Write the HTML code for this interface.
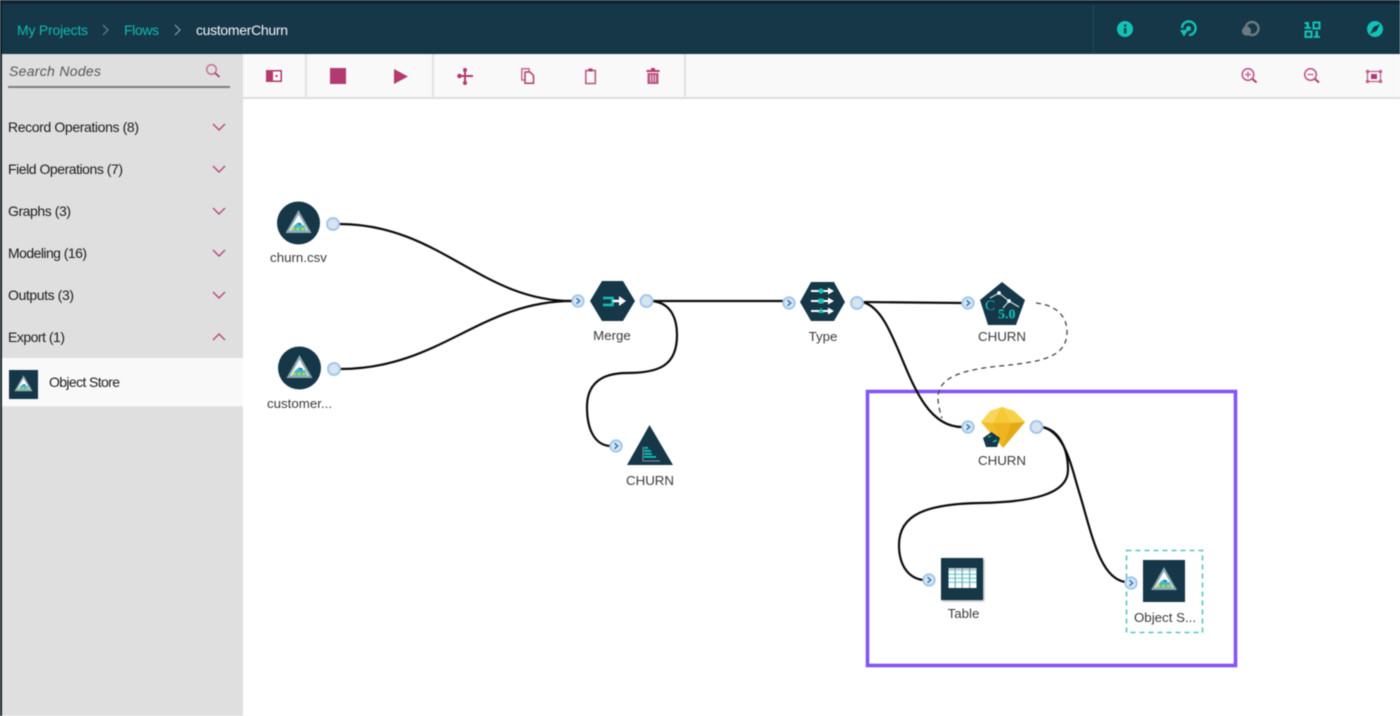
<!DOCTYPE html>
<html><head><meta charset="utf-8"><style>
html,body{margin:0;padding:0;background:#fff;width:1400px;height:716px;overflow:hidden}
svg{display:block;filter:blur(.45px)}
text{font-family:"Liberation Sans",sans-serif;font-size:14px;fill:#222}
.lbl{text-anchor:middle;fill:#3a3a3a;font-size:13.3px}
.side{fill:#1c1c1c;font-size:14px}
.ic{fill:#b23a6e;stroke:none}
.hd{fill:#12c4b8;stroke:none}
.hl{fill:none;stroke:#12c4b8;stroke-width:2.4}
.w{fill:none;stroke:#0c0c0c;stroke-width:2.2}
</style></head><body>
<svg width="1400" height="716" viewBox="0 0 1400 716" xmlns="http://www.w3.org/2000/svg">
<defs>
<g id="pout"><circle r="6" fill="#d7e4f1" stroke="#a5c7e8" stroke-width="2"/></g>
<g id="pi"><circle r="5.700" fill="#dde8f4" stroke="#a5c7e8" stroke-width="2"/><path d="M-1.500,-2.800 L1.700,0 L-1.500,2.800" fill="none" stroke="#3f86c6" stroke-width="1.700"/></g>
<g id="tri">
<path d="M0,-14 L13,9 L-13,9Z" fill="#8fa8b2"/>
<path d="M0,-9.500 L9.300,6.800 L-9.300,6.800Z" fill="#fff"/>
<path d="M-8,6.800 L8,6.800 L5.500,1 L2,1 L0,-2 L-4,1Z" fill="#4cb7c4"/>
<rect x="-7" y="3.800" width="3" height="2.200" fill="#c9d92f"/><rect x="-2" y="3.800" width="3" height="2.200" fill="#c9d92f"/><rect x="3" y="3.800" width="3" height="2.200" fill="#c9d92f"/><rect x="0" y="-1" width="3" height="2" fill="#1f7fb5"/>
</g>
<g id="chev"><path d="M-6,-3 L0,3 L6,-3" fill="none" stroke="#b8477a" stroke-width="1.400"/></g>
</defs>

<!-- header -->
<rect width="1400" height="54" fill="#153748"/>
<rect width="1400" height="4" fill="#0f2632"/>
<rect y="0" width="2" height="716" fill="#0f1e26"/>
<line x1="1093.500" y1="4" x2="1093.500" y2="53" stroke="#1f4a5c"/>
<text x="17" y="35" style="fill:#12b9b2" textLength="71">My Projects</text>
<path d="M103,25 L108,30 L103,35" fill="none" stroke="#6f8894" stroke-width="1.100"/>
<text x="124" y="35" style="fill:#12b9b2" textLength="35">Flows</text>
<path d="M175,25 L180,30 L175,35" fill="none" stroke="#8fa3ad" stroke-width="1.100"/>
<text x="196" y="35" style="fill:#f2f5f6" textLength="92">customerChurn</text>

<circle class="hd" cx="1125" cy="29" r="8"/>
<rect x="1124" y="28" width="2.400" height="5.500" fill="#153748"/><rect x="1124" y="24.500" width="2.400" height="2.200" fill="#153748"/>
<path class="hl" d="M1189,35 A6.800,6.800 0 1 0 1182,28"/>
<circle class="hd" cx="1188.500" cy="28.500" r="2.500"/>
<path class="hd" d="M1180,30 L1188,30 L1184,36.500Z"/>
<circle cx="1252" cy="28.500" r="6.500" fill="none" stroke="#6d7a80" stroke-width="2.400"/>
<circle cx="1246.500" cy="31" r="4.600" fill="#6d7a80"/>
<g>
<rect x="1306.500" y="22" width="2.500" height="6.500" class="hd"/><rect x="1304.500" y="22" width="3" height="2" class="hd"/><rect x="1304.500" y="27" width="6.500" height="1.800" class="hd"/>
<rect x="1313.500" y="22.500" width="6" height="6" fill="none" stroke="#12c4b8" stroke-width="2"/>
<rect x="1305.500" y="31.500" width="6" height="5.500" fill="none" stroke="#12c4b8" stroke-width="2"/>
<rect x="1315.500" y="31" width="2.500" height="6.500" class="hd"/><rect x="1313.500" y="36" width="6.500" height="1.800" class="hd"/>
</g>
<circle class="hd" cx="1375" cy="29" r="8"/>
<path d="M1380,24 L1376.500,31 L1370,34 L1373.500,27Z" fill="#153748"/>

<!-- sidebar -->
<rect x="2" y="54" width="241" height="662" fill="#dfdfdf"/>
<text x="9" y="76" style="font-style:italic;fill:#565656" textLength="92">Search Nodes</text>
<rect x="8" y="86" width="222" height="2" fill="#7d7d7d"/>
<circle cx="211.500" cy="69.500" r="4.800" fill="none" stroke="#c06a90" stroke-width="1.300"/>
<line x1="215" y1="73" x2="219.500" y2="77" stroke="#b23a6e" stroke-width="1.800"/>

<text class="side" x="8" y="132" textLength="131">Record Operations (8)</text>
<text class="side" x="8" y="174" textLength="115">Field Operations (7)</text>
<text class="side" x="8" y="216" textLength="63">Graphs (3)</text>
<text class="side" x="8" y="258" textLength="79">Modeling (16)</text>
<text class="side" x="8" y="300" textLength="66">Outputs (3)</text>
<text class="side" x="8" y="342" textLength="57">Export (1)</text>
<use href="#chev" x="219" y="127"/><use href="#chev" x="219" y="169"/><use href="#chev" x="219" y="211"/><use href="#chev" x="219" y="253"/><use href="#chev" x="219" y="295"/>
<path d="M213,340 L219,334 L225,340" fill="none" stroke="#b8477a" stroke-width="1.400"/>
<rect x="2" y="358" width="241" height="48" fill="#f9f9f9"/>
<rect x="2" y="406" width="241" height="1" fill="#e9e9e9"/>
<rect x="9" y="370" width="29" height="29" fill="#153748"/>
<use href="#tri" transform="translate(23.500,385) scale(.7)"/>
<text class="side" x="49" y="387" textLength="71">Object Store</text>

<!-- toolbar -->
<rect x="243" y="54" width="1157" height="44" fill="#f9f9f9"/>
<rect x="243" y="97" width="1157" height="2" fill="#dedede"/>
<rect x="305" y="54" width="2" height="44" fill="#e2e2e2"/>
<rect x="432" y="54" width="2" height="44" fill="#e2e2e2"/>
<rect x="684" y="54" width="2" height="44" fill="#e2e2e2"/>

<rect class="ic" x="266" y="70" width="16" height="12"/>
<rect x="273" y="71.500" width="7.500" height="9" fill="#f9f9f9"/><rect class="ic" x="275.500" y="75" width="2" height="2"/>
<rect class="ic" x="330" y="68" width="16" height="16"/>
<path class="ic" d="M394,69 L408,76.500 L394,84Z"/>
<path d="M458,76 L473,76 M465,69 L465,84" fill="none" stroke="#b23a6e" stroke-width="2"/>
<circle class="ic" cx="459.500" cy="76" r="2.300"/><circle class="ic" cx="465" cy="70" r="2"/><circle class="ic" cx="465" cy="83" r="2"/>
<path d="M521.800,68.800 L529,68.800 L529,80 L521.800,80Z" fill="none" stroke="#c46c93" stroke-width="1.500"/>
<path d="M525,72 L530,72 L533.500,75.500 L533.500,83.300 L525,83.300Z" fill="#f9f9f9" stroke="#b23a6e" stroke-width="1.500"/>
<rect x="585.800" y="70.500" width="9.500" height="13" fill="none" stroke="#c05a87" stroke-width="1.600"/>
<rect class="ic" x="588.500" y="68.500" width="4" height="3"/>
<rect class="ic" x="646.500" y="70" width="13" height="2"/><rect class="ic" x="651" y="68" width="4" height="2.500"/>
<path class="ic" d="M647.500,73 L658.500,73 L658.500,84 L647.500,84Z" opacity=".85"/>
<path d="M650.500,75 V82 M653,75 V82 M655.500,75 V82" stroke="#f9f9f9" stroke-width=".8"/>

<circle cx="1248" cy="74.500" r="5.800" fill="none" stroke="#c05a87" stroke-width="1.600"/>
<path d="M1252.500,79 L1256.500,82.500" stroke="#b23a6e" stroke-width="2"/>
<path d="M1245,74.500 H1251 M1248,71.500 V77.500" stroke="#c05a87" stroke-width="1.300"/>
<circle cx="1310.500" cy="74.500" r="5.800" fill="none" stroke="#c05a87" stroke-width="1.600"/>
<path d="M1315,79 L1319,82.500" stroke="#b23a6e" stroke-width="2"/>
<path d="M1307.500,74.500 H1313.500" stroke="#c05a87" stroke-width="1.300"/>
<rect x="1367.500" y="71.500" width="13" height="10" fill="none" stroke="#c05a87" stroke-width="1.200"/>
<rect x="1371" y="74" width="6" height="5" fill="#b23a6e"/>
<g fill="#c05a87"><rect x="1366" y="70" width="3" height="3"/><rect x="1379" y="70" width="3" height="3"/><rect x="1366" y="80" width="3" height="3"/><rect x="1379" y="80" width="3" height="3"/></g>

<!-- purple frame -->
<rect x="867.500" y="391.500" width="368" height="274" fill="none" stroke="#8355f5" stroke-width="3.600"/>

<!-- connectors -->
<path class="w" d="M339,224 C 440,224 480,301 572,301"/>
<path class="w" d="M340,369 C 440,369 480,301 572,301"/>
<path class="w" d="M652,301 L783,301"/>
<path class="w" d="M652,301 C 672,303 677,320 677,335 C 677,365 660,373 627,373 C 600,373 587,385 587,407 C 587,430 595,445 610,446"/>
<path class="w" d="M862,302 L962,303"/>
<path class="w" d="M862,302 C 902,310 905,427 962,427"/>
<path d="M1036,303 C 1055,305 1067,315 1067,332 C 1067,358 1040,362 1000,366 C 960,370 938,378 938,398 C 938,405 940,412 942,418" fill="none" stroke="#444" stroke-width="1.300" stroke-dasharray="5 4"/>
<path class="w" d="M1042,427 C 1060,430 1068,450 1068,470 C 1068,495 1030,502 980,503 C 925,504 899,515 899,545 C 899,565 908,578 923,580"/>
<path class="w" d="M1042,427 C 1066,432 1072,470 1080,495 C 1092,535 1100,578 1125,582"/>

<!-- churn.csv -->
<circle cx="298.500" cy="223" r="21.500" fill="#153748"/>
<use href="#tri" x="298.500" y="224"/>
<use href="#pout" x="333" y="224"/>
<text class="lbl" x="298.500" y="262">churn.csv</text>
<!-- customer -->
<circle cx="299.500" cy="368" r="21.500" fill="#153748"/>
<use href="#tri" x="299.500" y="369"/>
<use href="#pout" x="334" y="369"/>
<text class="lbl" x="299.500" y="408">customer...</text>

<!-- merge -->
<path d="M590,301 L602,281 L623,281 L635,301 L623,321 L602,321Z" fill="#153748"/>
<path d="M603,298 H612.500 V305 H603" fill="none" stroke="#12c4b8" stroke-width="2.600"/>
<path d="M613,299.800 H619 V296 L626,301 L619,306 V302.200 H613Z" fill="#fff"/>
<use href="#pi" x="578" y="301"/><use href="#pout" x="646.500" y="301"/>
<text class="lbl" x="612" y="340">Merge</text>

<!-- churn triangle -->
<path d="M649.500,425 L673,465 L627,465Z" fill="#153748"/>
<path d="M643,447 V461 H660" fill="none" stroke="#7f95a0" stroke-width="1"/>
<g fill="#12c4b8"><rect x="644" y="447" width="4" height="1.800"/><rect x="644" y="450" width="7" height="1.800"/><rect x="644" y="453" width="8" height="1.800"/><rect x="644" y="456" width="12" height="1.800"/></g>
<use href="#pi" x="616" y="446"/>
<text class="lbl" x="650" y="485">CHURN</text>

<!-- type -->
<path d="M800,302 L811,282 L834,282 L845,302 L834,321 L811,321Z" fill="#153748"/>
<g fill="#fff"><rect x="811" y="290" width="18" height="2"/><rect x="811" y="300" width="18" height="2"/><rect x="811" y="310" width="18" height="2"/>
<path d="M828,287.500 L834,291 L828,294.500Z"/><path d="M828,297.500 L834,301 L828,304.500Z"/><path d="M828,307.500 L834,311 L828,314.500Z"/></g>
<circle cx="821" cy="291" r="2.600" fill="#12c4b8"/><rect x="818.500" y="298.500" width="5" height="5" fill="#12c4b8"/><path d="M821,307.500 L824,313 L818,313Z" fill="#12c4b8"/>
<use href="#pi" x="789" y="303"/><use href="#pout" x="857" y="303"/>
<text class="lbl" x="823" y="341">Type</text>

<!-- C5.0 pentagon -->
<path d="M1002,282 L1025,300 L1016,325 L988,325 L980,300Z" fill="#153748"/>
<path d="M990,298 L999,293 L1009,301 L1019,307 M1009,301 L1003,308" fill="none" stroke="#dbe4e8" stroke-width="1.100"/>
<circle cx="999" cy="293" r="1.900" fill="#fff"/><circle cx="1009" cy="301" r="1.900" fill="#fff"/>
<text x="985" y="310" style="font-family:'Liberation Serif',serif;font-size:15px;fill:#12c4b8">C</text>
<text x="998" y="318.500" style="font-family:'Liberation Serif',serif;font-size:14px;fill:#12c4b8;font-weight:bold">5.0</text>
<use href="#pi" x="968" y="303"/>
<text class="lbl" x="1002" y="341">CHURN</text>

<!-- gem -->
<path d="M1002,407 L1014,411 L1025,422 L1003,448 L981,422 L990,411Z" fill="#f2bd2c"/>
<path d="M1002,407 L1014,411 L1025,422 L1011,423Z" fill="#f7d04a"/>
<path d="M1002,407 L993,423 L981,422 L990,411Z" fill="#f9d65b"/>
<path d="M993,423 L1011,423 L1002,407Z" fill="#f5c838"/>
<path d="M993,423 L1011,423 L1003,448Z" fill="#eeb520"/>
<path d="M1011,423 L1025,422 L1003,448Z" fill="#e5a917"/>
<path d="M991.500,432 L1000,438 L997,447 L986,447 L983,438Z" fill="#153748"/>
<path d="M988,437 L991,436 M993,442 L997,440" stroke="#12c4b8" stroke-width="1.400"/>
<use href="#pi" x="968" y="427"/><use href="#pout" x="1036.500" y="427"/>
<text class="lbl" x="1002" y="465">CHURN</text>

<!-- table -->
<rect x="941" y="558" width="42" height="42" fill="#153748" style="filter:drop-shadow(1px 1px 1px #999)"/>
<rect x="948.500" y="568" width="28" height="20" fill="#fff"/>
<rect x="948.500" y="568" width="28" height="3" fill="#b9cfd6"/>
<g fill="#78e0d8"><rect x="948.500" y="573.500" width="28" height="1.500"/><rect x="948.500" y="577.500" width="28" height="1.500"/><rect x="948.500" y="581.500" width="28" height="1.500"/></g>
<g fill="#8fa5ad"><rect x="954.500" y="568" width="1.300" height="20"/><rect x="961.500" y="568" width="1.300" height="20"/><rect x="969" y="568" width="1.300" height="20"/></g>
<use href="#pi" x="929" y="580"/>
<text class="lbl" x="963.500" y="618">Table</text>

<!-- object store -->
<rect x="1126.500" y="550.500" width="76" height="82" fill="none" stroke="#55c6bd" stroke-width="1.600" stroke-dasharray="5 4"/>
<rect x="1143" y="560" width="42" height="42" fill="#153748"/>
<use href="#tri" x="1164" y="581"/>
<use href="#pi" x="1131" y="583"/>
<text class="lbl" x="1165" y="622">Object S...</text>
</svg>
</body></html>
